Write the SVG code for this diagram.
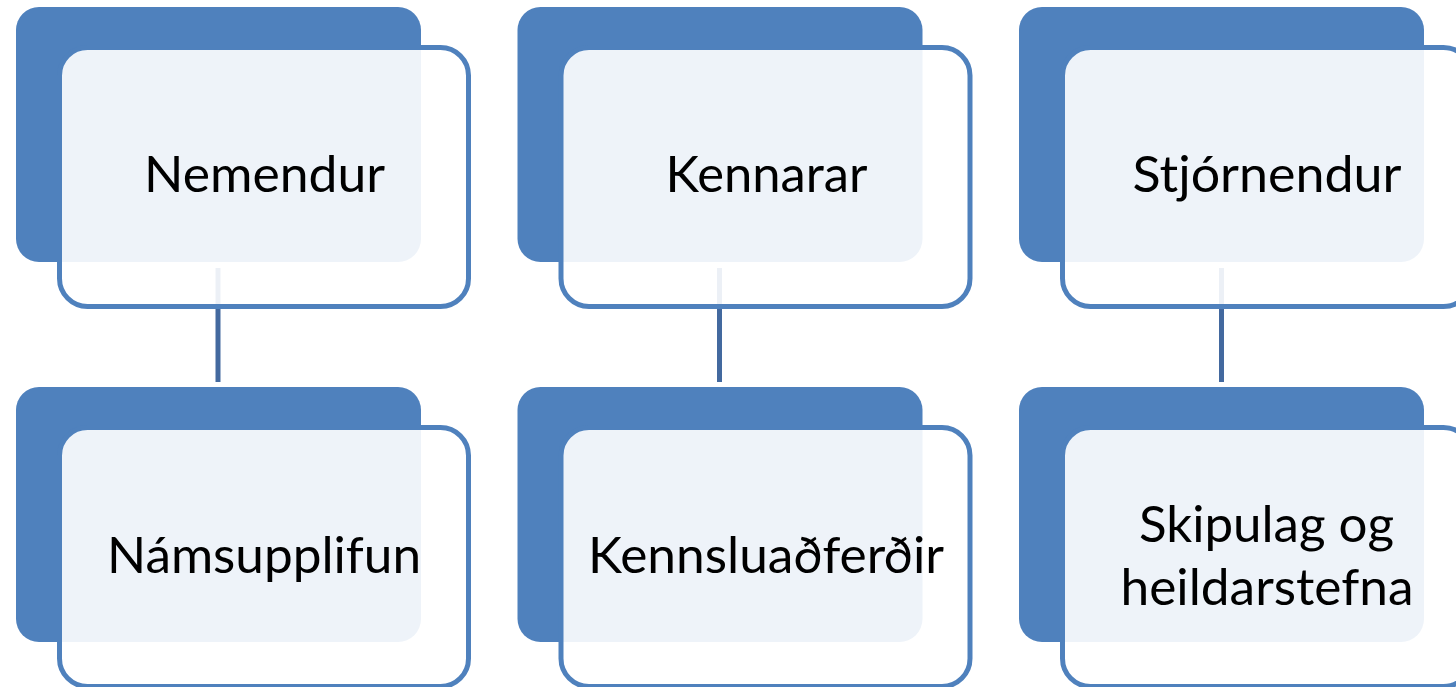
<svg xmlns="http://www.w3.org/2000/svg" width="1456" height="687" viewBox="0 0 1456 687">
<style>
.back{fill:#4F81BD;}
.front{fill:#FFFFFF;fill-opacity:0.9;stroke:#4F81BD;stroke-width:5;}
.conn{stroke:#43699F;stroke-width:5;fill:none;}
.lbl{font-family:Lato,"Open Sans","Liberation Sans",sans-serif;font-size:50px;fill:#000000;text-anchor:middle;}
</style>
<rect width="1456" height="687" fill="#FFFFFF"/>
<g id="connectors">
<line class="conn" x1="218" y1="268" x2="218" y2="382"/>
<line class="conn" x1="719.5" y1="268" x2="719.5" y2="382"/>
<line class="conn" x1="1221.5" y1="268" x2="1221.5" y2="382"/>
</g>
<g id="n-nemendur">
<rect class="back" x="16" y="7" width="405" height="255" rx="23"/>
<rect class="front" x="59.5" y="47.5" width="409" height="259" rx="28"/>
<text class="lbl" x="264.5" y="192" textLength="241" lengthAdjust="spacingAndGlyphs">Nemendur</text>
</g>
<g id="n-kennarar">
<rect class="back" x="517.5" y="7" width="405" height="255" rx="23"/>
<rect class="front" x="561" y="47.5" width="409" height="259" rx="28"/>
<text class="lbl" x="766.5" y="192" textLength="202" lengthAdjust="spacingAndGlyphs">Kennarar</text>
</g>
<g id="n-stjornendur">
<rect class="back" x="1019" y="7" width="405" height="255" rx="23"/>
<rect class="front" x="1062.5" y="47.5" width="409" height="259" rx="28"/>
<text class="lbl" x="1267" y="192" textLength="269" lengthAdjust="spacingAndGlyphs">Stjórnendur</text>
</g>
<g id="n-namsupplifun">
<rect class="back" x="16" y="387" width="405" height="255" rx="23"/>
<rect class="front" x="59.5" y="427.5" width="409" height="259" rx="28"/>
<text class="lbl" x="264" y="572.5" textLength="314" lengthAdjust="spacingAndGlyphs">Námsupplifun</text>
</g>
<g id="n-kennsluadferdir">
<rect class="back" x="517.5" y="387" width="405" height="255" rx="23"/>
<rect class="front" x="561" y="427.5" width="409" height="259" rx="28"/>
<text class="lbl" x="766" y="572.5" textLength="356" lengthAdjust="spacingAndGlyphs">Kennsluaðferðir</text>
</g>
<g id="n-skipulag">
<rect class="back" x="1019" y="387" width="405" height="255" rx="23"/>
<rect class="front" x="1062.5" y="427.5" width="409" height="259" rx="28"/>
<text class="lbl" x="1266.5" y="542" textLength="255" lengthAdjust="spacingAndGlyphs">Skipulag og</text>
<text class="lbl" x="1267" y="605" textLength="293" lengthAdjust="spacingAndGlyphs">heildarstefna</text>
</g>
</svg>
